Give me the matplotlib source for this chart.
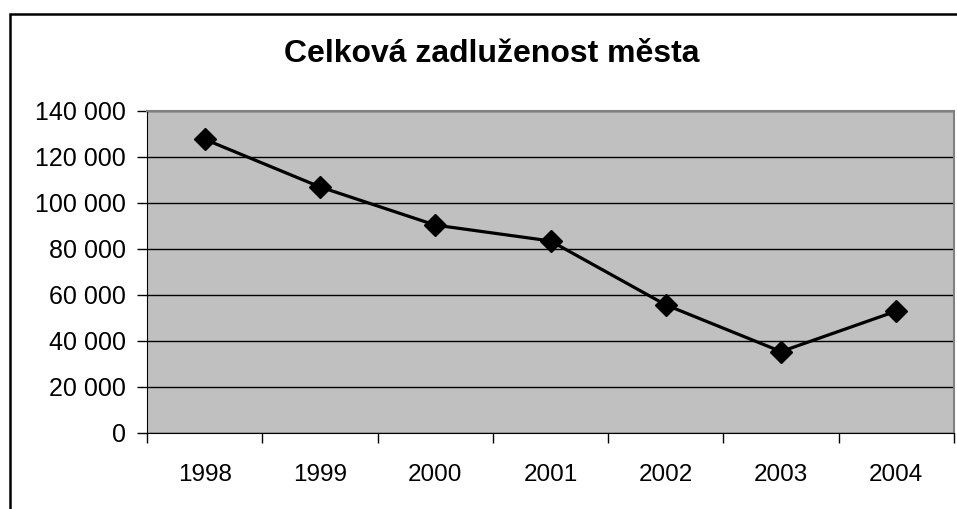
import matplotlib
matplotlib.use('Agg')
import matplotlib.pyplot as plt
from matplotlib.patches import Rectangle
from matplotlib.ticker import FuncFormatter, FixedLocator

years = ['1998', '1999', '2000', '2001', '2002', '2003', '2004']
debt = [127700, 107000, 90400, 83500, 55700, 35400, 53000]

plt.rcParams['font.family'] = ['Liberation Sans', 'DejaVu Sans']

fig = plt.figure(figsize=(9.57, 5.09), dpi=100)

# outer chart border (only left and top visible, rest cut off)
fig.patches.append(Rectangle((10 / 957, -0.2), 2.0, 1.2 - 13.5 / 509,
                             transform=fig.transFigure, fill=False,
                             edgecolor='black', linewidth=1.8))

ax = fig.add_axes([147 / 957, 76 / 509, 807 / 957, 322 / 509])
ax.set_facecolor('#c0c0c0')

x = list(range(len(years)))
ax.plot(x, debt, color='black', linewidth=2.3, marker='D', markersize=11,
        markerfacecolor='black', markeredgecolor='black', zorder=3)

ax.set_xlim(-0.5, len(years) - 0.5)
ax.set_ylim(0, 140000)
ax.set_yticks(range(0, 140001, 20000))
ax.yaxis.set_major_formatter(FuncFormatter(lambda v, p: f'{int(v):,}'.replace(',', ' ')))
ax.yaxis.grid(True, color='black', linewidth=1.0)
ax.set_axisbelow(True)

ax.set_xticks(x)
ax.set_xticklabels(years)
ax.xaxis.set_minor_locator(FixedLocator([i - 0.5 for i in range(len(years) + 1)]))
ax.tick_params(axis='x', which='major', length=0, pad=22, labelsize=17.5)
ax.tick_params(axis='x', which='minor', length=7, width=1, direction='out', color='black')
ax.tick_params(axis='y', length=7, width=1, direction='out', pad=8, labelsize=18)

for s in ['top', 'right']:
    ax.spines[s].set_color('#808080')
    ax.spines[s].set_linewidth(1.5)
ax.spines['left'].set_color('black')
ax.spines['bottom'].set_color('black')

fig.text(492 / 957, 1 - 54 / 509, 'Celková zadluženost města', ha='center', va='center',
         fontsize=23, fontweight='bold')

fig.savefig('out.png', dpi=100)
